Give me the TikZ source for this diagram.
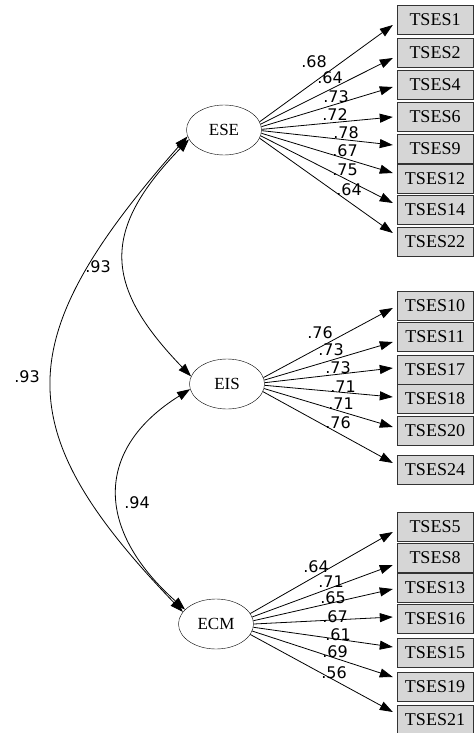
\documentclass[tikz,border=0pt]{standalone}
\usepackage{fontspec}
\setmainfont{Liberation Serif}
\newfontfamily\numfont{DejaVu Sans}
\usepackage{tikz}
\usetikzlibrary{arrows.meta, shapes.geometric}

\begin{document}
\begin{tikzpicture}[x=1pt, y=-1pt,
    lat/.style={draw, ellipse, minimum width=75pt, minimum height=50pt,
                inner sep=0pt, font=\fontsize{17}{17}\selectfont},
    ind/.style={draw=black!80, fill=black!16, minimum width=76pt, minimum height=29pt,
                inner sep=0pt, font=\fontsize{18}{18}\selectfont},
    load/.style={line width=0.8pt, -{Triangle[length=13pt, width=9pt]}},
    cov/.style={line width=0.8pt, {Triangle[length=13pt, width=9pt]}-{Triangle[length=13pt, width=9pt]}},
    coef/.style={inner sep=0pt, font=\numfont\fontsize{16}{16}\selectfont}]
    \useasboundingbox (0,0) rectangle (475,733);
    \node[lat] (ese) at (224,130) {ESE};
    \node[lat] (eis) at (227,384) {EIS};
    \node[lat] (ecm) at (216,624) {ECM};
    % ESE items
    \node[ind] (t1) at (435,20) {TSES1};
    \node[ind] (t2) at (435,53) {TSES2};
    \node[ind] (t4) at (435,84.5) {TSES4};
    \node[ind] (t6) at (435,116.5) {TSES6};
    \node[ind] (t9) at (435,148.5) {TSES9};
    \node[ind] (t12) at (435,179) {TSES12};
    \node[ind] (t14) at (435,210) {TSES14};
    \node[ind] (t22) at (435,242) {TSES22};
    \draw[load] (ese.13) -- ([shift={(-4,5)}]t1.west);
    \draw[load] (ese.9.3) -- ([shift={(-4,5)}]t2.west);
    \draw[load] (ese.5.6) -- ([shift={(-4,2.5)}]t4.west);
    \draw[load] (ese.1.9) -- ([shift={(-4,0.5)}]t6.west);
    \draw[load] (ese.-1.9) -- ([shift={(-4,-3.5)}]t9.west);
    \draw[load] (ese.-5.6) -- ([shift={(-4,-6)}]t12.west);
    \draw[load] (ese.-9.3) -- ([shift={(-4,-7)}]t14.west);
    \draw[load] (ese.-13) -- ([shift={(-4,-9)}]t22.west);
    \node[coef] (c1) at (314,62) {.68};
    \node[coef] (c2) at (330,78) {.64};
    \node[coef] (c4) at (336,97) {.73};
    \node[coef] (c6) at (335,115) {.72};
    \node[coef] (c9) at (346,133) {.78};
    \node[coef] (c12) at (345,151) {.67};
    \node[coef] (c14) at (345,170) {.75};
    \node[coef] (c22) at (349,190) {.64};
    % EIS items
    \node[ind] (t10) at (435,306) {TSES10};
    \node[ind] (t11) at (435,337) {TSES11};
    \node[ind] (t17) at (435,370) {TSES17};
    \node[ind] (t18) at (435,399) {TSES18};
    \node[ind] (t20) at (435,431) {TSES20};
    \node[ind] (t24) at (435,470) {TSES24};
    \draw[load] (eis.10) -- ([shift={(-4,2)}]t10.west);
    \draw[load] (eis.6) -- ([shift={(-4,5)}]t11.west);
    \draw[load] (eis.2) -- ([shift={(-4,-2)}]t17.west);
    \draw[load] (eis.-2) -- ([shift={(-4,-2)}]t18.west);
    \draw[load] (eis.-7) -- ([shift={(-4,-4)}]t20.west);
    \draw[load] (eis.-12) -- ([shift={(-4,-7)}]t24.west);
    \node[coef] (c10) at (320,333) {.76};
    \node[coef] (c11) at (331,350) {.73};
    \node[coef] (c17) at (338,368) {.73};
    \node[coef] (c18) at (343,387) {.71};
    \node[coef] (c20) at (341,404) {.71};
    \node[coef] (c24) at (338,423) {.76};
    % ECM items
    \node[ind] (t5) at (435,527) {TSES5};
    \node[ind] (t8) at (435,558) {TSES8};
    \node[ind] (t13) at (435,588) {TSES13};
    \node[ind] (t16) at (435,619) {TSES16};
    \node[ind] (t15) at (435,653) {TSES15};
    \node[ind] (t19) at (435,687) {TSES19};
    \node[ind] (t21) at (435,720) {TSES21};
    \draw[load] (ecm.17) -- ([shift={(-4,5)}]t5.west);
    \draw[load] (ecm.11.3) -- ([shift={(-4,7)}]t8.west);
    \draw[load] (ecm.5.7) -- ([shift={(-4,1)}]t13.west);
    \draw[load] (ecm.0) -- ([shift={(-4,-2)}]t16.west);
    \draw[load] (ecm.-5.7) -- ([shift={(-4,-6)}]t15.west);
    \draw[load] (ecm.-11.3) -- ([shift={(-4,-10)}]t19.west);
    \draw[load] (ecm.-17) -- ([shift={(-4,-8)}]t21.west);
    \node[coef] (c5) at (316,567) {.64};
    \node[coef] (c8) at (331,582) {.71};
    \node[coef] (c13) at (333,598) {.65};
    \node[coef] (c16) at (335,617) {.67};
    \node[coef] (c15) at (338,635) {.61};
    \node[coef] (c19) at (335,652) {.69};
    \node[coef] (c21) at (334,673) {.56};
    % correlations between factors
    \draw[cov] (ese.195) .. controls +(-88,91) and +(-88,-91) .. (eis.168);
    \draw[cov] (eis.188) .. controls +(-96,60) and +(-90,-80) .. (ecm.155);
    \draw[cov] (ese.190) .. controls +(-180,204) and +(-175,-182) .. (ecm.160);
    \node[coef] (r12) at (98,267) {.93};
    \node[coef] (r23) at (137,503) {.94};
    \node[coef] (r13) at (27,377) {.93};
  \end{tikzpicture}
\end{document}
